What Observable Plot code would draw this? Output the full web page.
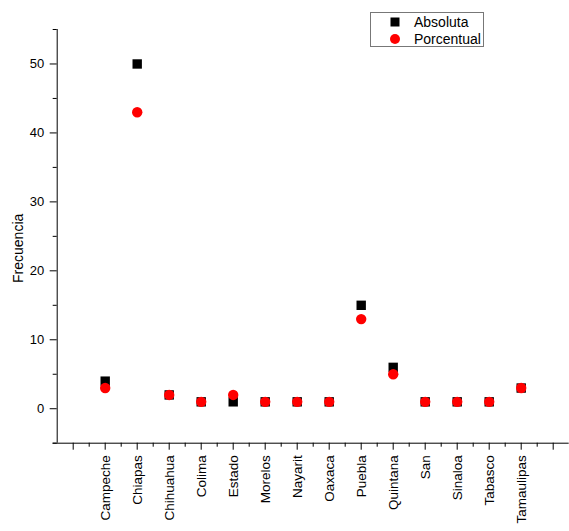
<!DOCTYPE html>
<html>
<head>
<meta charset="utf-8">
<script src="https://cdn.jsdelivr.net/npm/d3@7"></script>
<script src="https://cdn.jsdelivr.net/npm/@observablehq/plot@0.6"></script>
<style>
  html, body { margin: 0; padding: 0; background: #fff; }
  #wrap { position: relative; width: 569px; height: 531px; overflow: hidden; font-family: "Liberation Sans", Arial, sans-serif; }
  #legend { position: absolute; left: 370px; top: 12px; width: 114px; height: 35px; border: 1px solid #777; background: #fff; box-sizing: border-box; }
  #legend .row { position: absolute; left: 0; height: 18px; display: flex; align-items: center; font-size: 14px; color: #000; }
  #legend .sw { width: 48px; display: flex; justify-content: center; align-items: center; }
</style>
</head>
<body>
<div id="wrap"></div>
<script>
const estados = ["Campeche","Chiapas","Chihuahua","Colima","Estado","Morelos","Nayarit","Oaxaca","Puebla","Quintana","San","Sinaloa","Tabasco","Tamaulipas"];
const absoluta = [4,50,2,1,1,1,1,1,15,6,1,1,1,3];
const porcentual = [3,43,2,1,2,1,1,1,13,5,1,1,1,3];
const yTicks = [0,10,20,30,40,50];
const yMinor = [-5,5,15,25,35,45,55];
const xTicks = [0,1,2,3,4,5,6,7,8,9,10,11,12,13,14,15];
const xMinor = [0.5,1.5,2.5,3.5,4.5,5.5,6.5,7.5,8.5,9.5,10.5,11.5,12.5,13.5,14.5];
const series = [
  {name: "Absoluta", color: "#000000", symbol: "square", values: absoluta},
  {name: "Porcentual", color: "#ff0000", symbol: "circle", values: porcentual}
];

const rows = series.flatMap(s => s.values.map((v, i) => ({pos: i + 1, value: v, serie: s.name})));
const labels = estados.map((e, i) => ({pos: i + 1, name: e}));

const chart = Plot.plot({
  width: 569,
  height: 531,
  marginLeft: 56.7,
  marginRight: 0.3,
  marginTop: 29,
  marginBottom: 88.3,
  style: {fontFamily: "'Liberation Sans', Arial, sans-serif", fontSize: "13px", background: "#fff", color: "#000"},
  x: {type: "linear", domain: [-0.5, 15.5]},
  y: {domain: [-5, 55]},
  marks: [
    Plot.axisY(yTicks, {tickSize: 7, tickPadding: 6, fontSize: 13, label: null}),
    Plot.axisY(yMinor, {tickSize: 4, text: null, label: null}),
    Plot.axisX(xTicks, {tickSize: 7, text: null, label: null}),
    Plot.axisX(xMinor, {tickSize: 4, text: null, label: null}),
    Plot.ruleX([-0.5], {y1: -5, y2: 55, stroke: "#000"}),
    Plot.ruleY([-5], {x1: -0.63, x2: 15.5, stroke: "#000"}),
    Plot.text(labels, {x: "pos", y: -5, text: "name", rotate: -90, textAnchor: "end", lineAnchor: "middle", dy: 12, fontSize: 13.5, fill: "#000"}),
    Plot.text(["Frecuencia"], {frameAnchor: "left", dx: -39, dy: 12, rotate: -90, textAnchor: "middle", lineAnchor: "middle", fontSize: 14, fill: "#000"}),
    Plot.dot(rows.filter(d => d.serie === "Absoluta"), {x: "pos", y: "value", symbol: "square", r: 5.3, fill: "#000", stroke: "none"}),
    Plot.dot(rows.filter(d => d.serie === "Porcentual"), {x: "pos", y: "value", symbol: "circle", r: 5.2, fill: "#ff0000", stroke: "none"})
  ]
});

const wrap = document.getElementById("wrap");
wrap.appendChild(chart);

const legend = document.createElement("div");
legend.id = "legend";
series.forEach((s, k) => {
  const row = document.createElement("div");
  row.className = "row";
  row.style.top = (k === 0 ? 0 : 17) + "px";
  const sw = document.createElement("div");
  sw.className = "sw";
  const svgNS = "http://www.w3.org/2000/svg";
  const svg = document.createElementNS(svgNS, "svg");
  svg.setAttribute("width", "12");
  svg.setAttribute("height", "12");
  if (s.symbol === "square") {
    const r = document.createElementNS(svgNS, "rect");
    r.setAttribute("x", "1.5"); r.setAttribute("y", "1.5");
    r.setAttribute("width", "9"); r.setAttribute("height", "9");
    r.setAttribute("fill", s.color);
    svg.appendChild(r);
  } else {
    const c = document.createElementNS(svgNS, "circle");
    c.setAttribute("cx", "6"); c.setAttribute("cy", "6"); c.setAttribute("r", "5");
    c.setAttribute("fill", s.color);
    svg.appendChild(c);
  }
  sw.appendChild(svg);
  const t = document.createElement("span");
  t.textContent = s.name;
  t.style.marginLeft = "-5px";
  row.appendChild(sw);
  row.appendChild(t);
  legend.appendChild(row);
});
wrap.appendChild(legend);
</script>
</body>
</html>
